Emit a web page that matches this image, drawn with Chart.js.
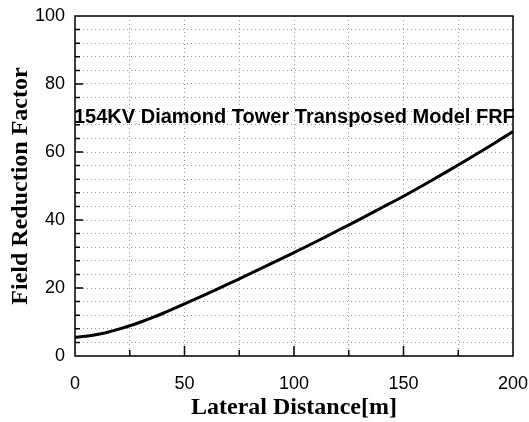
<!DOCTYPE html>
<html>
<head>
<meta charset="utf-8">
<script src="https://cdn.jsdelivr.net/npm/chart.js"></script>
<style>
  html, body { margin:0; padding:0; background:#fff; }
  #wrap { width:529px; height:422px; }
</style>
</head>
<body>
<div id="wrap"><canvas id="chart" width="529" height="422"></canvas></div>
<script>
// Data
var distance = [0,5,10,15,20,25,30,35,40,45,50,60,70,80,90,100,110,120,130,140,150,160,170,180,190,200];
var frf      = [5.5,5.8,6.3,7.0,7.9,8.9,10.0,11.2,12.5,13.9,15.3,18.2,21.2,24.2,27.3,30.4,33.6,36.9,40.2,43.6,47.0,50.6,54.3,58.1,62.0,66.0];
var xTickLabels = [0,50,100,150,200];
var yTickLabels = [0,20,40,60,80,100];
var title = '154KV Diamond Tower Transposed Model FRF';

var points = [];
for (var i = 0; i < distance.length; i++) points.push({ x: distance[i], y: frf[i] });

// frame, inward tick marks and the title inside the plot
var framePlugin = {
  id: 'frame',
  afterDraw: function(chart) {
    var c = chart.ctx, a = chart.chartArea;
    var xs = chart.scales.x, ys = chart.scales.y;
    c.save();
    c.strokeStyle = '#000';
    c.lineWidth = 1.5;
    c.strokeRect(a.left, a.top, a.right - a.left, a.bottom - a.top);
    c.beginPath();
    for (var v = 25; v < 200; v += 25) {
      var px = xs.getPixelForValue(v);
      var len = (v % 50 === 0) ? 10 : 6;
      c.moveTo(px, a.bottom); c.lineTo(px, a.bottom - len);
    }
    for (var w = 4; w < 100; w += 4) {
      var py = ys.getPixelForValue(w);
      var l2 = (w % 20 === 0) ? 8 : 5;
      c.moveTo(a.left, py); c.lineTo(a.left + l2, py);
    }
    c.stroke();
    c.fillStyle = '#000';
    c.font = 'bold 20px "Liberation Sans", Arial, sans-serif';
    c.textBaseline = 'middle';
    c.textAlign = 'left';
    c.fillText(title, a.left - 1, ys.getPixelForValue(70.2));
    c.restore();
  }
};

new Chart(document.getElementById('chart'), {
  type: 'line',
  data: {
    datasets: [{
      data: points,
      borderColor: '#000',
      borderWidth: 3,
      pointRadius: 0,
      fill: false,
      cubicInterpolationMode: 'monotone'
    }]
  },
  options: {
    responsive: false,
    animation: false,
    layout: { padding: { top: 16, right: 16, left: 0, bottom: 0 } },
    plugins: { legend: { display: false }, tooltip: { enabled: false } },
    scales: {
      x: {
        type: 'linear', min: 0, max: 200,
        afterFit: function(s) { s.height = 66; s.paddingLeft = 0; s.paddingRight = 0; },
        ticks: {
          stepSize: 25, autoSkip: false, padding: 17,
          color: '#000', font: { family: '"Liberation Sans", Arial, sans-serif', size: 18 },
          callback: function(v) { return xTickLabels.indexOf(v) >= 0 ? String(v) : ''; }
        },
        grid: { color: '#999', lineWidth: 1, drawTicks: false },
        border: { display: false, dash: [1,3] },
        title: { display: true, text: 'Lateral Distance[m]', color: '#000', padding: { top: 0, bottom: 0 },
                 font: { family: '"Liberation Serif", "Times New Roman", serif', size: 24, weight: 'bold' } }
      },
      y: {
        min: 0, max: 100,
        afterFit: function(s) { s.width = 75; s.paddingTop = 0; s.paddingBottom = 0; },
        ticks: {
          stepSize: 4, autoSkip: false, padding: 10,
          color: '#000', font: { family: '"Liberation Sans", Arial, sans-serif', size: 18 },
          callback: function(v) { return yTickLabels.indexOf(v) >= 0 ? String(v) : ''; }
        },
        grid: { color: '#999', lineWidth: 1, drawTicks: false },
        border: { display: false, dash: [1,3] },
        title: { display: true, text: 'Field Reduction Factor', color: '#000', padding: { top: 6, bottom: 0 },
                 font: { family: '"Liberation Serif", "Times New Roman", serif', size: 24, weight: 'bold' } }
      }
    }
  },
  plugins: [framePlugin]
});
</script>
</body>
</html>
